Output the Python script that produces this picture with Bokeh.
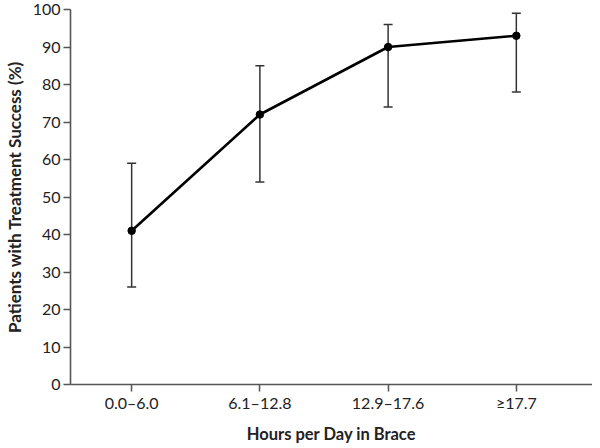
from bokeh.plotting import figure
from bokeh.models import ColumnDataSource, Whisker, TeeHead, FixedTicker, Range1d
from bokeh.embed import file_html
from bokeh.resources import INLINE

categories = ["0.0\u20136.0", "6.1\u201312.8", "12.9\u201317.6", "\u226517.7"]
success = [41, 72, 90, 93]
lower_ci = [26, 54, 74, 78]
upper_ci = [59, 85, 96, 99]
y_ticks = [0, 10, 20, 30, 40, 50, 60, 70, 80, 90, 100]

xs = list(range(len(categories)))
src = ColumnDataSource(dict(x=xs, y=success, lower=lower_ci, upper=upper_ci))

p = figure(width=592, height=446, output_backend="svg", toolbar_location=None,
           x_range=Range1d(-0.477, 3.594), y_range=Range1d(0, 100),
           min_border_left=2, min_border_right=0, min_border_top=9, min_border_bottom=2)
p.outline_line_color = None
p.grid.visible = False
p.background_fill_color = "white"

axis_col = "#555555"
font = "Lato"

wh = Whisker(base="x", lower="lower", upper="upper", source=src, dimension="height",
             line_color="#333333", line_width=1.5,
             upper_head=TeeHead(size=9, line_color="#333333", line_width=1.5),
             lower_head=TeeHead(size=9, line_color="#333333", line_width=1.5))
p.add_layout(wh)

p.line("x", "y", source=src, line_color="black", line_width=2.6)
p.scatter("x", "y", source=src, size=7.5, fill_color="black", line_color="black")

p.xaxis.ticker = FixedTicker(ticks=xs)
p.xaxis.major_label_overrides = {i: c for i, c in enumerate(categories)}
p.xaxis.minor_tick_line_color = None
p.yaxis.ticker = FixedTicker(ticks=y_ticks)
p.yaxis.minor_tick_line_color = None

for ax in (p.xaxis, p.yaxis):
    ax.axis_line_color = axis_col
    ax.axis_line_width = 1.6
    ax.major_tick_line_color = axis_col
    ax.major_tick_line_width = 1.5
    ax.major_tick_out = 7
    ax.major_tick_in = 0
    ax.major_label_text_font = font
    ax.major_label_text_font_size = "16px"
    ax.major_label_text_color = "#222222"
    ax.axis_label_text_font = font
    ax.axis_label_text_font_style = "bold"
    ax.axis_label_text_color = "#222222"

p.xaxis.axis_label_text_font_size = "16.5px"
p.yaxis.axis_label_text_font_size = "17px"
p.xaxis.axis_label = "Hours per Day in Brace"
p.yaxis.axis_label = "Patients with Treatment Success (%)"
p.xaxis.major_label_standoff = 1
p.xaxis.axis_label_standoff = 9
p.yaxis.major_label_standoff = 3
p.yaxis.axis_label_standoff = 5

open("out.html", "w").write(file_html(p, INLINE))
